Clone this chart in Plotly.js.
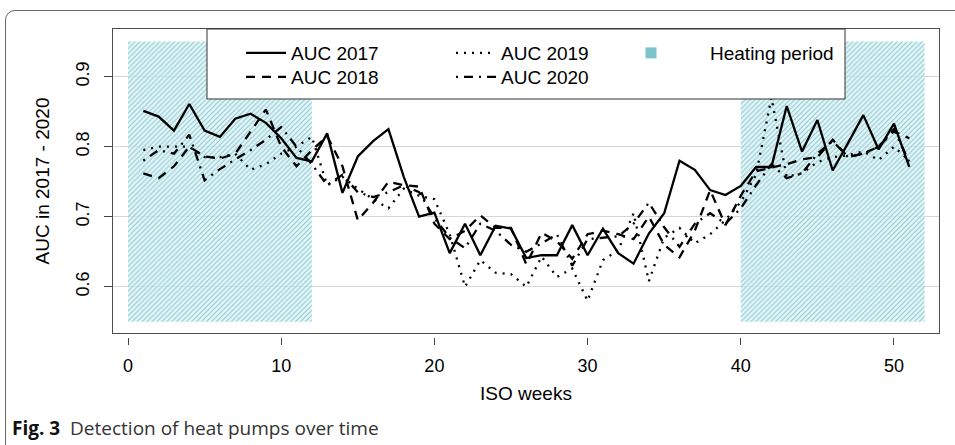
<!DOCTYPE html>
<html>
<head>
<meta charset="utf-8">
<script src="https://cdn.plot.ly/plotly-3.0.1.min.js"></script>
<style>
  html, body { margin: 0; padding: 0; background: #fff; }
  #wrap { position: relative; width: 955px; height: 445px; overflow: hidden; }
  #chart { position: absolute; left: 0; top: 0; width: 955px; height: 445px; }
  #frame { position: absolute; left: 5px; top: 10px; width: 1000px; height: 500px;
           border: 1.3px solid #6a6a6a; border-radius: 10px; pointer-events: none; }
</style>
</head>
<body>
<div id="wrap">
  <div id="chart"></div>
  <div id="frame"></div>
</div>
<script>
// ISO weeks
const weeks = [1,2,3,4,5,6,7,8,9,10,11,12,13,14,15,16,17,18,19,20,21,22,23,24,25,26,
               27,28,29,30,31,32,33,34,35,36,37,38,39,40,41,42,43,44,45,46,47,48,49,50,51];

const auc2017 = [0.851,0.843,0.823,0.861,0.823,0.814,0.840,0.847,0.834,0.812,
                 0.784,0.779,0.819,0.734,0.786,0.808,0.825,0.757,0.700,0.706,
                 0.648,0.690,0.645,0.687,0.683,0.641,0.645,0.645,0.688,0.645,
                 0.683,0.648,0.633,0.676,0.705,0.780,0.767,0.738,0.731,0.744,
                 0.771,0.771,0.858,0.793,0.838,0.766,0.805,0.845,0.796,0.833,0.771];

const auc2018 = [0.762,0.755,0.772,0.800,0.786,0.783,0.790,0.822,0.853,0.800,
                 0.772,0.795,0.815,0.772,0.695,0.720,0.750,0.745,0.743,0.690,
                 0.668,0.680,0.702,0.684,0.684,0.632,0.677,0.665,0.640,0.675,
                 0.680,0.675,0.668,0.700,0.660,0.642,0.680,0.738,0.688,0.730,
                 0.765,0.770,0.775,0.782,0.785,0.810,0.785,0.790,0.800,0.822,0.812];

const auc2019 = [0.795,0.800,0.800,0.800,0.785,0.785,0.790,0.767,0.775,0.790,
                 0.800,0.814,0.745,0.757,0.740,0.725,0.712,0.740,0.730,0.725,
                 0.675,0.600,0.638,0.620,0.618,0.600,0.643,0.614,0.626,0.580,
                 0.638,0.652,0.705,0.608,0.670,0.684,0.662,0.675,0.695,0.721,
                 0.760,0.870,0.757,0.762,0.778,0.785,0.788,0.793,0.781,0.800,0.780];

const auc2020 = [0.780,0.795,0.790,0.817,0.752,0.768,0.782,0.795,0.810,0.828,
                 0.800,0.775,0.745,0.760,0.735,0.728,0.735,0.745,0.735,0.698,
                 0.670,0.655,0.690,0.680,0.660,0.650,0.662,0.675,0.630,0.668,
                 0.670,0.672,0.690,0.720,0.685,0.657,0.690,0.705,0.690,0.712,
                 0.745,0.775,0.755,0.762,0.790,0.808,0.785,0.790,0.800,0.825,0.778];

// Heating periods (weeks) and the band they span on the AUC axis
const heatStart = [0, 40];
const heatEnd   = [12, 52];
const heatLow   = 0.55;
const heatHigh  = 0.95;

const xTicks = [0, 10, 20, 30, 40, 50];
const yTicks = [0.6, 0.7, 0.8, 0.9];
const yTickText = ['0.6', '0.7', '0.8', '0.9'];

// Build heating polygons
const hx = [], hy = [];
heatStart.forEach((s, i) => {
  if (i > 0) { hx.push(null); hy.push(null); }
  hx.push(s, heatEnd[i], heatEnd[i], s, s);
  hy.push(heatLow, heatLow, heatHigh, heatHigh, heatLow);
});

const FONT = 'Liberation Sans, Arial, sans-serif';
const XR = [-0.98, 52.94];
const YR = [0.534, 0.968];
const HEAT = '#7cc4cc';

const lineStyle = (dash) => ({ color: '#000', width: 2.3, dash: dash });

const traces = [
  { x: hx, y: hy, type: 'scatter', mode: 'none', fill: 'toself',
    fillcolor: 'rgba(255,255,255,0)',
    fillpattern: { shape: '/', fgcolor: '#86cad1', bgcolor: 'rgba(222,242,245,0.7)', size: 3.5, solidity: 0.3 },
    xaxis: 'x', yaxis: 'y', showlegend: false, hoverinfo: 'skip' },
  { x: weeks, y: auc2017, name: 'AUC 2017', type: 'scatter', mode: 'lines',
    line: lineStyle('solid'), xaxis: 'x2', yaxis: 'y', legend: 'legend' },
  { x: weeks, y: auc2019, name: 'AUC 2019', type: 'scatter', mode: 'lines',
    line: lineStyle('2px,6px'), xaxis: 'x2', yaxis: 'y', legend: 'legend' },
  { x: weeks, y: auc2018, name: 'AUC 2018', type: 'scatter', mode: 'lines',
    line: lineStyle('9px,7px'), xaxis: 'x2', yaxis: 'y', legend: 'legend2' },
  { x: weeks, y: auc2020, name: 'AUC 2020', type: 'scatter', mode: 'lines',
    line: lineStyle('2px,6px,9px,6px'), xaxis: 'x2', yaxis: 'y', legend: 'legend2' },
  { x: [null], y: [null], name: 'Heating period', type: 'scatter', mode: 'markers',
    marker: { symbol: 'square', size: 11, color: HEAT },
    xaxis: 'x', yaxis: 'y', legend: 'legend3', hoverinfo: 'skip' }
];

const legendBase = {
  orientation: 'h', xanchor: 'left', yanchor: 'middle',
  bgcolor: 'rgba(0,0,0,0)', borderwidth: 0,
  font: { family: FONT, size: 19, color: '#000' }
};

const layout = {
  width: 955, height: 445,
  margin: { l: 113, r: 16, t: 29, b: 100 },
  paper_bgcolor: '#fff', plot_bgcolor: '#fff',
  font: { family: FONT, color: '#000' },
  xaxis: {
    range: XR, showgrid: false, zeroline: false, ticks: '', showticklabels: false,
    showline: true, mirror: true, linecolor: '#4d4d4d', linewidth: 1
  },
  xaxis2: {
    overlaying: 'x', anchor: 'free', position: 0.0253, range: XR,
    tickvals: xTicks, ticks: 'outside', ticklen: 7, tickcolor: '#444', tickwidth: 1,
    ticklabelstandoff: 5,
    showline: false, showgrid: false, zeroline: false,
    tickfont: { family: FONT, size: 18, color: '#000' },
    title: { text: 'ISO weeks', standoff: 12, font: { family: FONT, size: 19, color: '#000' } }
  },
  yaxis: {
    domain: [0.038, 1], range: YR,
    tickvals: yTicks, ticktext: yTickText, tickangle: -90,
    ticks: 'outside', ticklen: 8, tickcolor: '#444', tickwidth: 1,
    ticklabelstandoff: 8,
    gridcolor: '#d6d6d6', gridwidth: 1, zeroline: false,
    showline: true, mirror: true, linecolor: '#4d4d4d', linewidth: 1,
    tickfont: { family: FONT, size: 18, color: '#000' },
    title: { text: 'AUC in 2017 - 2020', standoff: 18, font: { family: FONT, size: 19, color: '#000' } }
  },
  legend:  Object.assign({}, legendBase, { x: 0.155, y: 0.924, itemwidth: 40, entrywidth: 155 }),
  legend2: Object.assign({}, legendBase, { x: 0.155, y: 0.848, itemwidth: 40, entrywidth: 155 }),
  legend3: Object.assign({}, legendBase, { x: 0.5799, y: 0.924, itemwidth: 108 }),
  shapes: [
    { type: 'rect', xref: 'paper', yref: 'paper', x0: 0.1138, x1: 0.8862, y0: 0.7785, y1: 1.0,
      fillcolor: '#fff', line: { color: '#333', width: 1 }, layer: 'above' }
  ],
  annotations: [
    { xref: 'paper', yref: 'paper', x: -0.1247, y: -0.2627, xanchor: 'left', yanchor: 'middle',
      showarrow: false, align: 'left',
      text: '<b>Fig. 3</b>  <span style="color:#333">Detection of heat pumps over time</span>',
      font: { family: 'Open Sans, Noto Sans, sans-serif', size: 19, color: '#111' } }
  ],
  showlegend: true
};

Plotly.newPlot('chart', traces, layout, { staticPlot: true, displayModeBar: false });
</script>
</body>
</html>
